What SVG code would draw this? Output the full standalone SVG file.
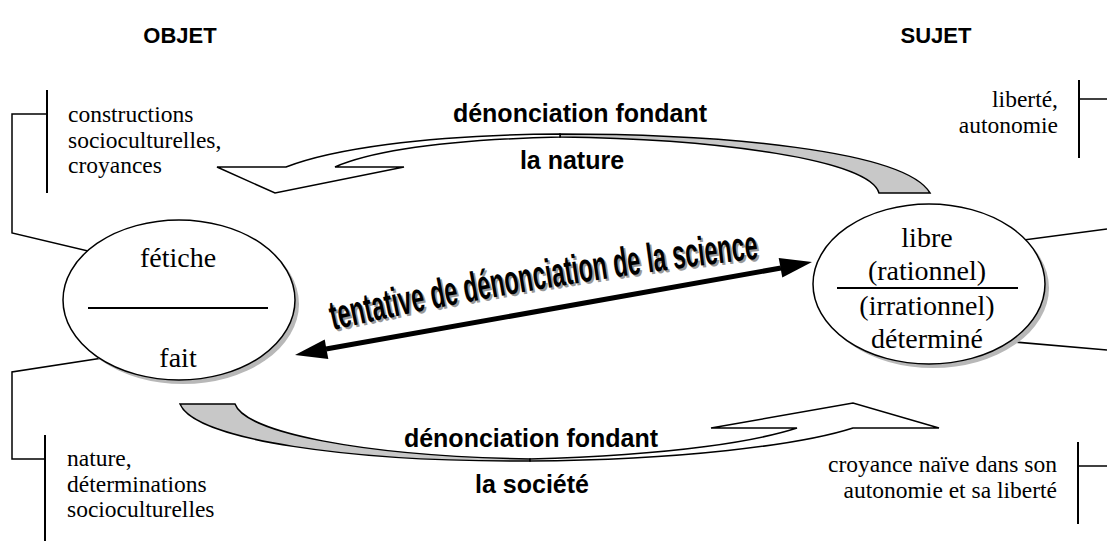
<svg xmlns="http://www.w3.org/2000/svg" xmlns:xlink="http://www.w3.org/1999/xlink" width="1107" height="541" viewBox="0 0 1107 541">
<style>
.head{font-family:"Liberation Sans",Arial,sans-serif;font-weight:bold;font-size:22px;fill:#000}
.lbl{font-family:"Liberation Sans",Arial,sans-serif;font-weight:bold;font-size:25px;fill:#000}
.ser{font-family:"Liberation Serif","Times New Roman",serif;font-size:23.5px;fill:#000}
.node{font-family:"Liberation Serif","Times New Roman",serif;font-size:28px;fill:#000}
.ln{stroke:#000;stroke-width:1.5;fill:none}
.bar{stroke:#000;stroke-width:2;fill:none}
.ell{fill:#fff;stroke:#000;stroke-width:1.5}
.shd{fill:#b8b8b8}
.rib{fill:#fff;stroke:#000;stroke-width:1.5;stroke-linejoin:miter}
.ribg{fill:#c8c8c8;stroke:#000;stroke-width:1.5}
.big{font-family:"Liberation Sans",Arial,sans-serif;font-weight:bold;font-size:41px}
</style>
<defs>
<path id="arc" d="M333,330 Q540,283 764,258"/>
<path id="arcs" d="M335,332 Q542,285 766,260"/>
</defs>
<rect width="1107" height="541" fill="#fff"/>

<g id="headings">
<text class="head" x="180" y="43" text-anchor="middle">OBJET</text>
<text class="head" x="936" y="43" text-anchor="middle">SUJET</text>
</g>

<g id="connectors">
<!-- top curved arrow -->
<path class="ribg" d="M560,134 C720,134 905,150 930,193 L879,193 C870,160 720,139 560,137 Z"/>
<path class="rib" d="M286,167 C330,150 420,135 560,134 L560,137 C440,140 370,152 335,167 L404,167 L275,193 L217,167 Z"/>
<!-- bottom curved arrow -->
<path class="ribg" d="M180,404 L235,404 C245,432 360,456 530,459 L530,461 C350,462 195,440 180,404 Z"/>
<path class="rib" d="M530,461 C680,460 800,445 853,428 L939,428 L853,403 L711,428 L797,428 C760,440 680,455 530,459 Z"/>
<!-- central double arrow -->
<line x1="326" y1="349" x2="781" y2="268" stroke="#000" stroke-width="5"/>
<polygon points="812,262 782.3,277.5 778.7,257.9" fill="#000"/>
<polygon points="295,355 328.3,359.1 324.7,339.5" fill="#000"/>
<!-- callout lines -->
<path class="bar" d="M47,90 V193"/>
<path class="ln" d="M47,114 H12 V233 L126,260"/>
<path class="ln" d="M135,353 L12,372 V459 H45"/>
<path class="bar" d="M45,435 V541"/>
<path class="bar" d="M1079,80 V158"/>
<path class="ln" d="M1079,99 H1107"/>
<path class="ln" d="M993,244 L1107,229"/>
<path class="ln" d="M1003,341 L1107,350"/>
<path class="bar" d="M1078,442 V524"/>
<path class="ln" d="M1078,466 H1107"/>
</g>

<g id="arrow-labels">
<text class="lbl" x="580" y="122" text-anchor="middle">dénonciation fondant</text>
<text class="lbl" x="572" y="169" text-anchor="middle">la nature</text>
<text class="lbl" x="531" y="447" text-anchor="middle">dénonciation fondant</text>
<text class="lbl" x="532" y="493" text-anchor="middle">la société</text>
<text class="big" fill="#999"><textPath xlink:href="#arcs" href="#arcs" textLength="432" lengthAdjust="spacingAndGlyphs">tentative de dénonciation de la science</textPath></text>
<text class="big" fill="#000"><textPath xlink:href="#arc" href="#arc" textLength="432" lengthAdjust="spacingAndGlyphs">tentative de dénonciation de la science</textPath></text>
</g>

<g id="objet">
<ellipse class="shd" cx="183" cy="304" rx="116" ry="80"/>
<ellipse class="ell" cx="179" cy="300" rx="116" ry="80"/>
<line x1="88" y1="308" x2="268" y2="308" stroke="#000" stroke-width="2"/>
<text class="node" x="178" y="267" text-anchor="middle">fétiche</text>
<text class="node" x="178" y="367" text-anchor="middle">fait</text>
</g>

<g id="sujet">
<ellipse class="shd" cx="933" cy="288" rx="116" ry="80"/>
<ellipse class="ell" cx="929" cy="284" rx="116" ry="80"/>
<line x1="837" y1="288" x2="1018" y2="288" stroke="#000" stroke-width="2"/>
<text class="node" x="927" y="247" text-anchor="middle">libre</text>
<text class="node" x="927" y="280" text-anchor="middle">(rationnel)</text>
<text class="node" x="927" y="315" text-anchor="middle">(irrationnel)</text>
<text class="node" x="927" y="348" text-anchor="middle">déterminé</text>
</g>

<g id="note-constructions">
<text class="ser" x="68" y="122">constructions</text>
<text class="ser" x="68" y="148">socioculturelles,</text>
<text class="ser" x="68" y="173">croyances</text>
</g>
<g id="note-nature">
<text class="ser" x="67" y="466">nature,</text>
<text class="ser" x="67" y="492">déterminations</text>
<text class="ser" x="67" y="517">socioculturelles</text>
</g>
<g id="note-liberte">
<text class="ser" x="1058" y="107" text-anchor="end">liberté,</text>
<text class="ser" x="1058" y="133" text-anchor="end">autonomie</text>
</g>
<g id="note-croyance">
<text class="ser" x="1057" y="472" text-anchor="end">croyance naïve dans son</text>
<text class="ser" x="1057" y="498" text-anchor="end">autonomie et sa liberté</text>
</g>
</svg>
